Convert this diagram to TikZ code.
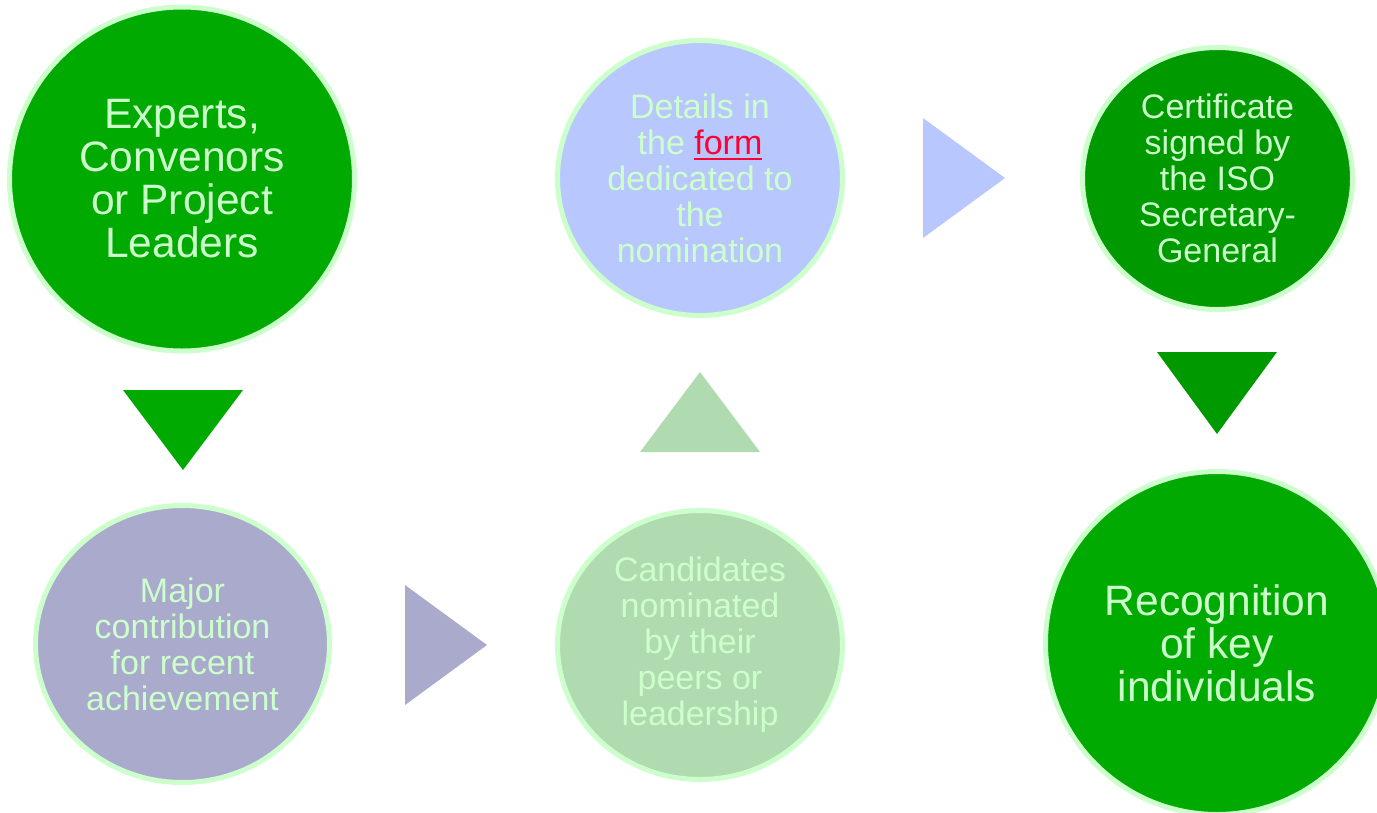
\documentclass[tikz,border=0pt]{standalone}
\usepackage{fontspec}
\setmainfont{Liberation Sans}
\usetikzlibrary{positioning, shapes.geometric}
\definecolor{isogreen}{RGB}{0,170,0}
\definecolor{darkgreen}{RGB}{0,153,0}
\definecolor{paleline}{RGB}{204,255,204}
\definecolor{lilac}{RGB}{170,170,204}
\definecolor{sage}{RGB}{176,219,176}
\definecolor{periwinkle}{RGB}{184,200,255}
\definecolor{linkred}{RGB}{255,0,51}
\newcommand{\formlink}[1]{\textcolor{linkred}{\setbox0\hbox{#1}\rlap{\rule[-6pt]{\wd0}{2.5pt}}\box0}}

\begin{document}
\begin{tikzpicture}[x=1pt,y=-1pt]
\tikzstyle{stage}=[ellipse, draw=paleline, line width=5pt, text=paleline, align=center, inner sep=0pt]
\tikzstyle{bigtext}=[font=\fontsize{42.5}{43}\selectfont]
\tikzstyle{smalltext}=[font=\fontsize{34}{36}\selectfont]
\useasboundingbox (0,0) rectangle (1377,812);
% circles
\node [stage, bigtext, fill=isogreen, minimum width=345pt, minimum height=344pt] (experts) at (182,179) {Experts,\\Convenors\\or Project\\Leaders};
\node [stage, smalltext, fill=lilac, minimum width=294pt, minimum height=277pt] (major) at (182.5,644) {Major\\contribution\\for recent\\achievement};
\node [stage, smalltext, fill=sage, minimum width=285pt, minimum height=269pt] (candidates) at (700,645) {Candidates\\nominated\\by their\\peers or\\leadership};
\node [stage, smalltext, fill=periwinkle, minimum width=285pt, minimum height=275pt] (details) at (700,178) {Details in\\the \formlink{form}\\dedicated to\\the\\nomination};
\node [stage, smalltext, fill=darkgreen, minimum width=270pt, minimum height=262pt] (certificate) at (1217.5,178.5) {Certificate\\signed by\\the ISO\\Secretary-\\General};
\node [stage, bigtext, fill=isogreen, minimum width=343pt, minimum height=343pt] (recognition) at (1217,643) {Recognition\\of key\\individuals};
% arrows
\fill [isogreen] (123,390) -- (243,390) -- (183,470) -- cycle;
\fill [lilac] (405,585) -- (405,705) -- (487,645) -- cycle;
\fill [sage] (640,452) -- (760,452) -- (700,372) -- cycle;
\fill [periwinkle] (923,118) -- (923,238) -- (1005,178) -- cycle;
\fill [darkgreen] (1157,352) -- (1277,352) -- (1217,434) -- cycle;
\end{tikzpicture}
\end{document}
